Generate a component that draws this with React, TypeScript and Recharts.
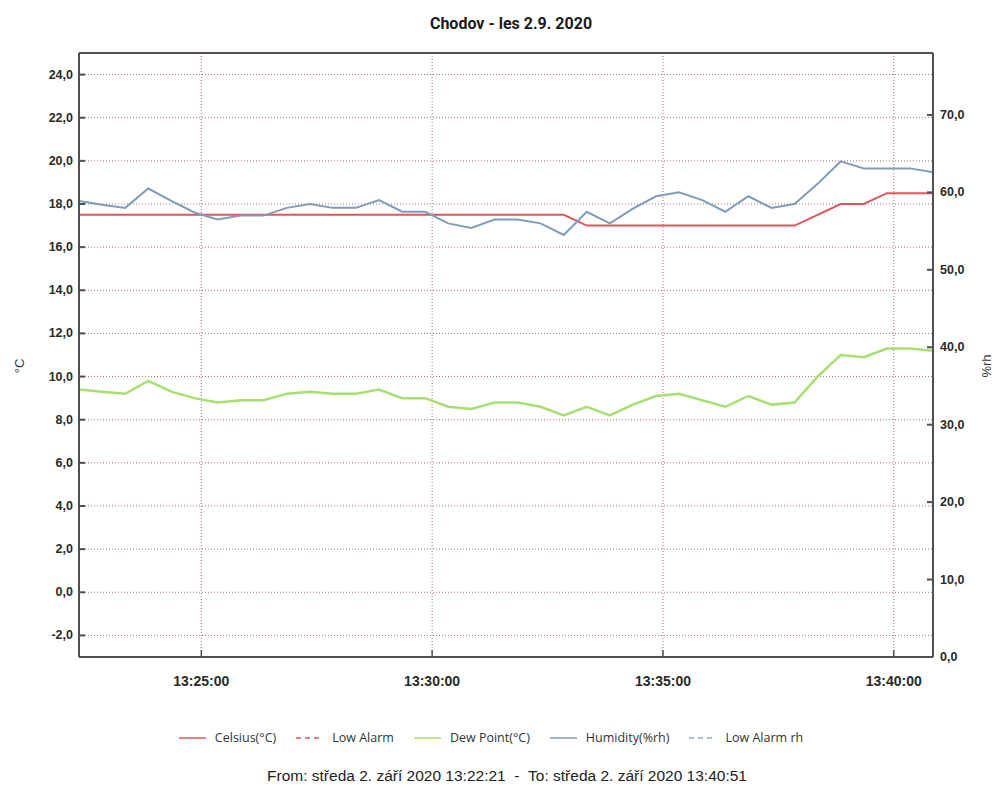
import React from 'react'
import { LineChart, Line, XAxis, YAxis, CartesianGrid, ReferenceLine } from 'recharts'

// samples every 30 s, 13:22:21 .. 13:40:51
const times = [
  '13:22:21', '13:22:51', '13:23:21', '13:23:51', '13:24:21', '13:24:51', '13:25:21', '13:25:51',
  '13:26:21', '13:26:51', '13:27:21', '13:27:51', '13:28:21', '13:28:51', '13:29:21', '13:29:51',
  '13:30:21', '13:30:51', '13:31:21', '13:31:51', '13:32:21', '13:32:51', '13:33:21', '13:33:51',
  '13:34:21', '13:34:51', '13:35:21', '13:35:51', '13:36:21', '13:36:51', '13:37:21', '13:37:51',
  '13:38:21', '13:38:51', '13:39:21', '13:39:51', '13:40:21', '13:40:51',
]

const celsius = [
  17.5, 17.5, 17.5, 17.5, 17.5, 17.5, 17.5, 17.5, 17.5, 17.5, 17.5, 17.5, 17.5, 17.5, 17.5, 17.5,
  17.5, 17.5, 17.5, 17.5, 17.5, 17.5, 17.0, 17.0, 17.0, 17.0, 17.0, 17.0, 17.0, 17.0, 17.0, 17.0,
  17.5, 18.0, 18.0, 18.5, 18.5, 18.5,
]

const dewPoint = [
  9.4, 9.3, 9.2, 9.8, 9.3, 9.0, 8.8, 8.9, 8.9, 9.2, 9.3, 9.2, 9.2, 9.4, 9.0, 9.0,
  8.6, 8.5, 8.8, 8.8, 8.6, 8.2, 8.6, 8.2, 8.7, 9.1, 9.2, 8.9, 8.6, 9.1, 8.7, 8.8,
  10.0, 11.0, 10.9, 11.3, 11.3, 11.2,
]

const humidity = [
  58.9, 58.4, 58.0, 60.5, 58.9, 57.4, 56.5, 57.0, 57.0, 58.0, 58.5, 58.0, 58.0, 59.0, 57.5, 57.5,
  56.0, 55.4, 56.5, 56.5, 56.0, 54.5, 57.5, 56.0, 57.9, 59.5, 60.0, 59.0, 57.5, 59.5, 58.0, 58.5,
  61.1, 64.0, 63.1, 63.1, 63.1, 62.6,
]

const timeRange = ['13:22:21', '13:40:51']
const timeTicks = ['13:25:00', '13:30:00', '13:35:00', '13:40:00']
const tempDomain = [-3, 25]
const tempTicks = [-2, 0, 2, 4, 6, 8, 10, 12, 14, 16, 18, 20, 22, 24]
const rhDomain = [0, 78]
const rhTicks = [0, 10, 20, 30, 40, 50, 60, 70]

const RED = '#e0545a'
const GREEN = '#a8df72'
const BLUE = '#7f9cba'
const AXIS = '#505050'
const GRID = '#b07070'

const legendItems = [
  { name: 'Celsius(°C)', color: RED, dashed: false },
  { name: 'Low Alarm', color: RED, dashed: true },
  { name: 'Dew Point(°C)', color: GREEN, dashed: false },
  { name: 'Humidity(%rh)', color: BLUE, dashed: false },
  { name: 'Low Alarm rh', color: '#8fb0cc', dashed: true },
]

const toSec = (s: string) => {
  const [h, m, sec] = s.split(':').map(Number)
  return h * 3600 + m * 60 + sec
}
const pad = (n: number) => String(n).padStart(2, '0')
const fmtTime = (v: number) => `${pad(Math.floor(v / 3600))}:${pad(Math.floor((v % 3600) / 60))}:${pad(v % 60)}`
const fmtNum = (v: number) => v.toFixed(1).replace('.', ',')

const data = times.map((t, i) => ({
  t: toSec(t),
  celsius: celsius[i],
  dew: dewPoint[i],
  hum: humidity[i],
}))

const tickFont = { fontFamily: 'Liberation Sans, Arial, sans-serif', fontWeight: 700, fill: '#2a2a2a' }

// tick marks point into the plot, like the original logger software
const LeftTick = ({ x, y, payload }: any) => (
  <g>
    <line x1={x + 6} x2={x + 12} y1={y} y2={y} stroke={AXIS} strokeWidth={2} />
    <text x={x} y={y} dy={4} textAnchor="end" fontSize={12.5} {...tickFont}>{fmtNum(payload.value)}</text>
  </g>
)

const RightTick = ({ x, y, payload }: any) => (
  <g>
    <line x1={x - 7} x2={x - 13} y1={y} y2={y} stroke={AXIS} strokeWidth={2} />
    <text x={x} y={y} dy={4} textAnchor="start" fontSize={12.5} {...tickFont}>{fmtNum(payload.value)}</text>
  </g>
)

const TimeTick = ({ x, y, payload }: any) => (
  <g>
    <line x1={x} x2={x} y1={y - 24} y2={y - 31} stroke={AXIS} strokeWidth={1.5} />
    <text x={x} y={y} dy={5} textAnchor="middle" fontSize={14} {...tickFont} fontFamily="Liberation Sans Narrow, Liberation Sans, Arial, sans-serif">
      {fmtTime(payload.value)}
    </text>
  </g>
)

export default function App() {
  return (
    <div style={{ position: 'fixed', top: 0, left: 0, width: 995, height: 788, background: '#fff', overflow: 'hidden' }}>
      <div style={{ position: 'absolute', top: 14, left: 0, width: 1022, textAlign: 'center', fontFamily: 'Roboto, sans-serif', fontWeight: 700, fontSize: 16, color: '#1a1a1a' }}>
        Chodov - les 2.9. 2020
      </div>

      <LineChart width={995} height={788} data={data} margin={{ top: 53, right: 0, bottom: 101, left: 0 }}>
        <CartesianGrid yAxisId="left" stroke={GRID} strokeDasharray="1 2" />
        <XAxis
          dataKey="t"
          type="number"
          domain={timeRange.map(toSec)}
          ticks={timeTicks.map(toSec)}
          height={30}
          tickSize={0}
          tickMargin={24}
          tick={<TimeTick />}
          axisLine={{ stroke: AXIS, strokeWidth: 2 }}
          allowDataOverflow
        />
        <YAxis
          yAxisId="left"
          domain={tempDomain}
          ticks={tempTicks}
          width={79}
          tickSize={0}
          tickMargin={6}
          tick={<LeftTick />}
          axisLine={{ stroke: AXIS, strokeWidth: 2 }}
          allowDataOverflow
        />
        <YAxis
          yAxisId="right"
          orientation="right"
          domain={rhDomain}
          ticks={rhTicks}
          width={62}
          tickSize={0}
          tickMargin={7}
          tick={<RightTick />}
          axisLine={{ stroke: AXIS, strokeWidth: 2 }}
          allowDataOverflow
        />
        <ReferenceLine yAxisId="left" y={tempDomain[1]} stroke={AXIS} strokeWidth={2} />
        <Line yAxisId="left" type="linear" dataKey="celsius" stroke={RED} strokeWidth={2} dot={false} isAnimationActive={false} />
        <Line yAxisId="left" type="linear" dataKey="dew" stroke={GREEN} strokeWidth={2.5} dot={false} isAnimationActive={false} />
        <Line yAxisId="right" type="linear" dataKey="hum" stroke={BLUE} strokeWidth={2} dot={false} isAnimationActive={false} />
      </LineChart>

      <div style={{ position: 'absolute', left: 19, top: 366, transform: 'translate(-50%, -50%) rotate(-90deg)', fontFamily: 'Liberation Sans, Arial, sans-serif', fontSize: 13, color: '#333' }}>°C</div>
      <div style={{ position: 'absolute', left: 986, top: 366, transform: 'translate(-50%, -50%) rotate(-90deg)', fontFamily: 'Liberation Sans, Arial, sans-serif', fontSize: 13, color: '#333' }}>%rh</div>

      <div style={{ position: 'absolute', top: 729, left: 0, width: 982, display: 'flex', justifyContent: 'center', fontFamily: '"Open Sans", sans-serif', fontSize: 12.5, color: '#333' }}>
        {legendItems.map((it) => (
          <div key={it.name} style={{ display: 'flex', alignItems: 'center', margin: '0 10px' }}>
            <svg width={27} height={10} style={{ marginRight: 9 }}>
              <line x1={0} x2={27} y1={5} y2={5} stroke={it.color} strokeWidth={1.5} strokeDasharray={it.dashed ? '5 4' : undefined} />
            </svg>
            <span>{it.name}</span>
          </div>
        ))}
      </div>

      <div style={{ position: 'absolute', top: 767, left: 0, width: 1014, textAlign: 'center', fontFamily: 'Liberation Sans, Arial, sans-serif', fontSize: 15.5, color: '#222' }}>
        From: středa 2. září 2020 13:22:21&nbsp;&nbsp;-&nbsp;&nbsp;To: středa 2. září 2020 13:40:51
      </div>
    </div>
  )
}
